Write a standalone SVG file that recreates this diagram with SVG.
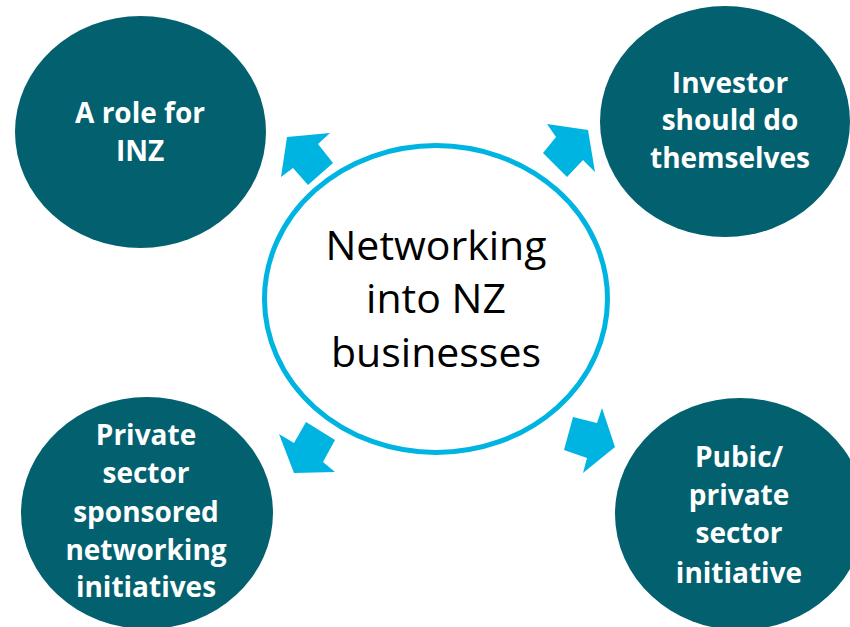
<svg xmlns="http://www.w3.org/2000/svg" width="850" height="627" viewBox="0 0 850 627">
<style>
.node{fill:#03616F}
.lbl{font-family:"Open Sans","Liberation Sans",sans-serif;font-weight:bold;font-size:28px;fill:#fff;text-anchor:middle}
.ctr{font-family:"Open Sans","Liberation Sans",sans-serif;font-size:41px;fill:#000;text-anchor:middle}
.arr{fill:#00B4E2}
</style>
<rect width="850" height="627" fill="#fff"/>
<g id="center">
<ellipse cx="436" cy="299" rx="171.5" ry="153.5" fill="#fff" stroke="#00B4E2" stroke-width="5"/>
<text class="ctr" x="436" y="260">Networking</text>
<text class="ctr" x="436" y="313">into NZ</text>
<text class="ctr" x="436" y="367">businesses</text>
</g>
<g id="node-tl">
<ellipse class="node" cx="140.5" cy="132" rx="125.5" ry="116"/>
<text class="lbl" x="140" y="123">A role for</text>
<text class="lbl" x="140" y="161">INZ</text>
</g>
<g id="node-tr">
<ellipse class="node" cx="725" cy="121.5" rx="125" ry="115.5"/>
<text class="lbl" x="730" y="93">Investor</text>
<text class="lbl" x="730" y="130">should do</text>
<text class="lbl" x="730" y="168">themselves</text>
</g>
<g id="node-bl">
<ellipse class="node" cx="147" cy="513" rx="126" ry="116"/>
<text class="lbl" x="146" y="445">Private</text>
<text class="lbl" x="146" y="483">sector</text>
<text class="lbl" x="146" y="522">sponsored</text>
<text class="lbl" x="146" y="560">networking</text>
<text class="lbl" x="146" y="597">initiatives</text>
</g>
<g id="node-br">
<ellipse class="node" cx="740" cy="514" rx="125" ry="116"/>
<text class="lbl" x="739" y="467">Pubic/</text>
<text class="lbl" x="739" y="505">private</text>
<text class="lbl" x="739" y="543">sector</text>
<text class="lbl" x="739" y="583">initiative</text>
</g>
<g id="connectors">
<polygon class="arr" points="287,137 330,133 318,144 333,163 308,185 293,168 281,177"/>
<polygon class="arr" points="547,124 588,130 595,172 583,160 567,177 543,153 556,137"/>
<polygon class="arr" points="306,422 335,440 323,462 335,472 294,473 279,434 294,443"/>
<polygon class="arr" points="602,408 615,447 583,473 587,458 564,450 573,417 597,423"/>
</g>
</svg>
